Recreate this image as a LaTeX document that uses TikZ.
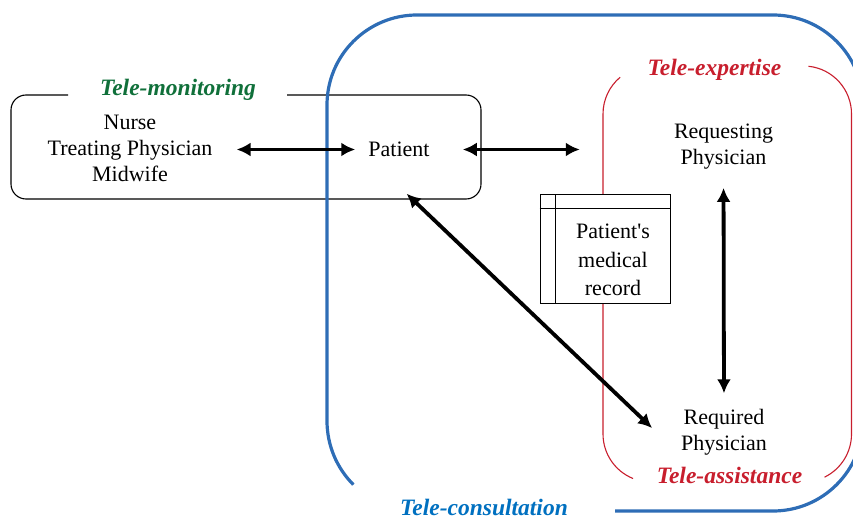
\documentclass[tikz,border=0pt]{standalone}
\usepackage{fontspec}
\setmainfont{Liberation Serif}[Ligatures=TeXOff]
\usetikzlibrary{arrows.meta,calc}
\definecolor{frameblue}{RGB}{46,109,182}
\definecolor{txtblue}{RGB}{0,112,192}
\definecolor{mygreen}{RGB}{16,112,58}
\definecolor{myred}{RGB}{200,30,45}
\begin{document}
\begin{tikzpicture}[x=1pt,y=1pt,
  txt/.style={font=\fontsize{22}{26}\selectfont, align=center, inner sep=0pt},
  lab/.style={font=\fontsize{23.5}{28}\selectfont\bfseries\itshape, anchor=base, inner sep=0pt},
  dbl/.style={line width=3.8pt, {Latex[length=14pt,width=14pt]}-{Latex[length=14pt,width=14pt]}},
  blueframe/.style={line width=3.2pt, frameblue},
  redframe/.style={line width=1.1pt, myred},
  blackframe/.style={line width=1.1pt, black}]
\useasboundingbox (0,0) rectangle (853,520);
\clip (0,0) rectangle (853,520);

% Tele-monitoring box
\draw[blackframe] (68,425) -- (26,425) arc[start angle=90,end angle=180,radius=15pt]
  -- (11,336) arc[start angle=180,end angle=270,radius=15pt]
  -- (466,321) arc[start angle=270,end angle=360,radius=15pt]
  -- (481,410) arc[start angle=0,end angle=90,radius=15pt] -- (287,425);

% Tele-consultation frame
\draw[blueframe] (615,9) -- (773,9) arc[start angle=-90,end angle=0,radius=90pt]
  -- (863,415) arc[start angle=0,end angle=90,radius=90pt]
  -- (417,505) arc[start angle=90,end angle=180,radius=90pt]
  -- (327,99) arc[start angle=180,end angle=225,radius=90pt];

% Tele-expertise / Tele-assistance frame
\draw[redframe] (651,406) ++(130:48) arc[start angle=130,end angle=180,radius=48pt]
  -- (603,86) arc[start angle=180,end angle=248,radius=48pt];
\draw[redframe] (803.5,406) ++(84:48) arc[start angle=84,end angle=0,radius=48pt]
  -- (851.5,86) arc[start angle=0,end angle=-64,radius=48pt];

% Medical record
\node[draw, fill=white, line width=1pt, minimum width=130pt, minimum height=108pt, inner sep=0pt] (record) at (605,271) {};
\draw[line width=1pt] ($(record.north west)+(0,-14)$) -- ($(record.north east)+(0,-14)$);
\draw[line width=1pt] ($(record.north west)+(16,0)$) -- ($(record.south west)+(16,0)$);
\node[font=\fontsize{22}{28.5}\selectfont, align=center, inner sep=0pt] (rectext) at (613,260) {Patient's\\medical\\record};

% Texts
\node[txt] (nurse) at (130,371.8) {Nurse\\Treating Physician\\Midwife};
\node[txt] (patient) at (399,370.5) {Patient};
\node[txt] (req) at (723.5,373.5) {Requesting\\Physician};
\node[txt] (reqd) at (724,87.5) {Required\\Physician};

% Arrows
\draw[dbl, shorten <=24pt, shorten >=13pt] (nurse.east |- patient.west) -- (patient.west);
\draw[dbl, shorten <=33pt, shorten >=94pt] (patient.east) -- (patient.east -| req.west);
\draw[dbl, shorten <=18.5pt, shorten >=16pt] (req.south) -- (reqd.north);
\draw[dbl, shorten <=53pt, shorten >=40pt] (patient.south west) -- (reqd.south west);

% Labels
\node[lab, text=mygreen] (tmon) at (178,424) {Tele-monitoring};
\node[lab, text=myred] (texp) at (714.5,444) {Tele-expertise};
\node[lab, text=myred] (tass) at (729.5,37) {Tele-assistance};
\node[lab, text=txtblue] (tcon) at (484,5) {Tele-consultation};
\end{tikzpicture}
\end{document}
